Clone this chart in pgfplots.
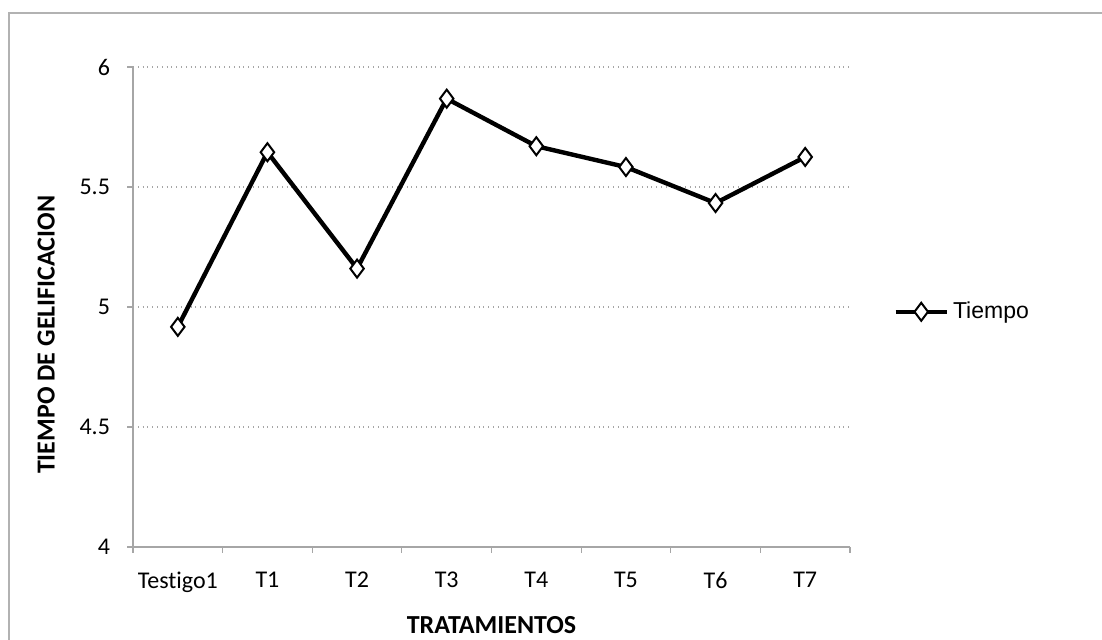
\documentclass[border=0pt]{standalone}
\usepackage{pgfplots}
\pgfplotsset{compat=1.18}
\usepackage{fontspec}
\setmainfont{Carlito}[Ligatures={NoCommon}]
\newfontfamily\arialfont{Liberation Sans}
\begin{document}
\begin{tikzpicture}
\path[use as bounding box] (0,0) rectangle (551pt,320pt);
\draw[gray!60, line width=0.6pt] (4.5pt,0) -- (4.5pt,313.5pt) -- (551pt,313.5pt);
\begin{axis}[
  at={(66.5pt,46.5pt)}, anchor=south west,
  scale only axis, width=358.5pt, height=240pt,
  xmin=-0.5, xmax=7.5, ymin=4, ymax=6,
  axis x line*=bottom, axis y line*=left,
  axis line style={gray!70, line width=0.6pt},
  xtick={0,...,7},
  xticklabels={Testigo1,T1,T2,T3,T4,T5,T6,T7},
  minor xtick={-0.5,0.5,...,7.5},
  major x tick style={draw=none},
  ytick={4,4.5,...,6},
  yticklabels={4,4.5,5,5.5,6},
  tick align=outside,
  major tick length=3pt, minor tick length=3pt,
  tick style={gray!70, line width=0.6pt},
  ymajorgrids, grid style={gray!70, dotted, line width=0.7pt},
  tick label style={font=\fontsize{12}{14}\selectfont, black},
  xticklabel style={yshift=-6pt},
  yticklabel style={xshift=-5pt},
  /pgf/number format/assume math mode=true,
  xlabel={\bfseries TRATAMIENTOS},
  ylabel={\bfseries TIEMPO DE GELIFICACION},
  label style={font=\fontsize{13}{15}\selectfont},
  xlabel style={at={(axis description cs:0.5,-0.1625)}, anchor=center},
  ylabel style={at={(axis description cs:-0.121,0.442)}, anchor=center, rotate=0},
  legend style={draw=none, fill=none, at={(axis description cs:1.06,0.49)}, anchor=west,
    font=\arialfont\fontsize{11.5}{13}\selectfont, inner sep=0pt},
  legend cell align=left,
  legend image code/.code={\draw[mark repeat=2, mark phase=2] plot coordinates {(0cm,0cm)(0.45cm,0cm)(0.9cm,0cm)};},
]
\addplot[black, line width=2.2pt, mark=diamond*, mark size=4.5pt,
  mark options={fill=white, draw=black, line width=1pt}]
  coordinates {(0,4.917) (1,5.645) (2,5.16) (3,5.868) (4,5.67) (5,5.583) (6,5.433) (7,5.625)};
\addlegendentry{Tiempo}
\end{axis}
\end{tikzpicture}
\end{document}
